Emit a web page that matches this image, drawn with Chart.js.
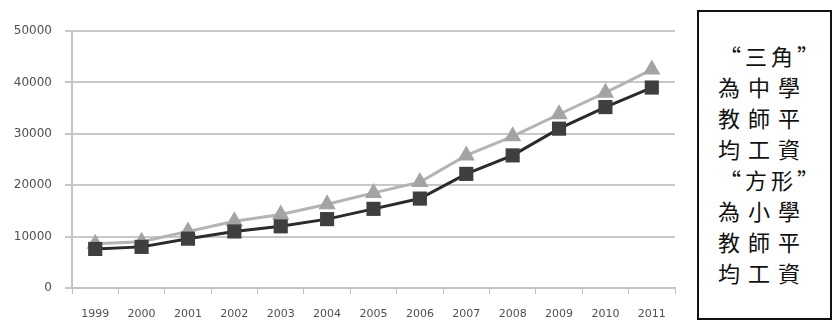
<!DOCTYPE html>
<html>
<head>
<meta charset="utf-8">
<script src="https://cdn.jsdelivr.net/npm/chart.js@4"></script>
<style>
  html, body { margin: 0; padding: 0; background: #fff; }
  #wrap { position: relative; width: 834px; height: 324px; overflow: hidden; }
  #chartBox { position: absolute; left: 0; top: 0; width: 690px; height: 324px; }
  #note {
    position: absolute; left: 697px; top: 10px; width: 131px; height: 306px;
    border: 2px solid #111; box-sizing: content-box;
    font-family: "Noto Sans CJK TC", "Noto Sans CJK SC", serif;
    font-size: 22px; line-height: 31px; color: #111;
  }
  #note div { position: absolute; white-space: nowrap; letter-spacing: 8px; }
</style>
</head>
<body>
<div id="wrap">
  <div id="chartBox"><canvas id="chart"></canvas></div>
  <div id="note"></div>
</div>
<script>
const years = ["1999", "2000", "2001", "2002", "2003", "2004", "2005",
               "2006", "2007", "2008", "2009", "2010", "2011"];

// "方形" = primary school teachers, "三角" = secondary school teachers
const primaryPay = [7600, 8000, 9600, 11000, 12000, 13400, 15400,
                    17400, 22200, 25800, 31000, 35200, 39000];
const secondaryPay = [8600, 9000, 11000, 13000, 14300, 16300, 18500,
                      20600, 25800, 29500, 33800, 38000, 42500];

const yTicks = [0, 10000, 20000, 30000, 40000, 50000];

const noteLines = ["“三角”", "為中學", "教師平", "均工資",
                   "“方形”", "為小學", "教師平", "均工資"];

// side note box
const note = document.getElementById("note");
noteLines.forEach(function (txt, i) {
  const d = document.createElement("div");
  d.textContent = txt;
  d.style.top = (28 + i * 31) + "px";
  d.style.left = (txt.charAt(0) === "“" ? 20 : 19) + "px";
  if (txt.charAt(0) === "“") d.style.letterSpacing = "4px";
  note.appendChild(d);
});

const axisFont = { family: "Tahoma, 'DejaVu Sans', sans-serif", size: 12 };

new Chart("chart", {
  type: "line",
  data: {
    labels: years,
    datasets: [
      {
        label: "小學",
        data: primaryPay,
        borderColor: "#2b2b2b",
        backgroundColor: "#3f3f3f",
        borderWidth: 3,
        pointStyle: "rect",
        pointRadius: 10,
        pointBorderWidth: 0,
        tension: 0,
        order: 0
      },
      {
        label: "中學",
        data: secondaryPay,
        borderColor: "#b4b4b4",
        backgroundColor: "#a4a4a4",
        borderWidth: 3,
        pointStyle: "triangle",
        pointRadius: 10,
        pointBorderWidth: 0,
        tension: 0,
        order: 1
      }
    ]
  },
  options: {
    responsive: true,
    maintainAspectRatio: false,
    animation: false,
    layout: { padding: { top: 31, bottom: 0, left: 10, right: 15 } },
    plugins: {
      legend: { display: false },
      tooltip: { enabled: false }
    },
    scales: {
      x: {
        offset: true,
        afterFit: function (scale) { scale.height = 36; },
        grid: {
          display: true,
          offset: true,
          drawOnChartArea: false,
          drawTicks: true,
          tickLength: 6,
          color: "#bdbdbd",
          lineWidth: 1
        },
        border: { display: true, color: "#c4c4c4", width: 2 },
        ticks: {
          color: "#505050",
          font: { family: "Tahoma, 'DejaVu Sans', sans-serif", size: 11 },
          padding: 14,
          maxRotation: 0,
          autoSkip: false
        }
      },
      y: {
        min: yTicks[0],
        max: yTicks[yTicks.length - 1],
        afterBuildTicks: function (scale) {
          scale.ticks = yTicks.map(function (v) { return { value: v }; });
        },
        afterFit: function (scale) { scale.width = 62; },
        grid: {
          color: "#c8c8c8",
          lineWidth: 2,
          drawTicks: true,
          tickLength: 7
        },
        border: { display: true, color: "#c4c4c4", width: 2 },
        ticks: {
          color: "#505050",
          font: axisFont,
          padding: 13,
          callback: function (v) { return String(v); }
        }
      }
    }
  }
});
</script>
</body>
</html>
